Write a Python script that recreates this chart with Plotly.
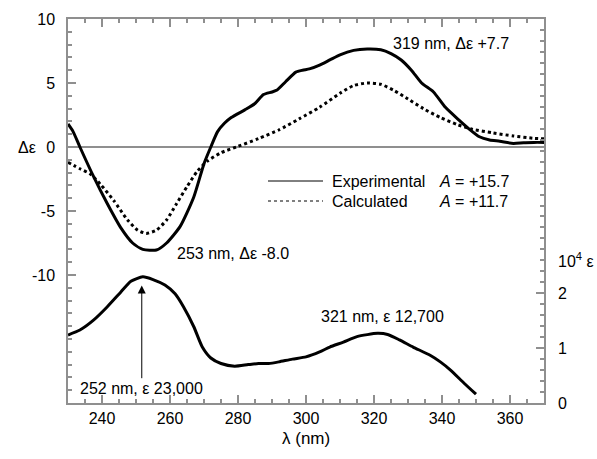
# CD and UV spectra, experimental vs calculated
import plotly.graph_objects as go

# experimental CD spectrum (nm, delta epsilon)
lam_exp = [230, 231.5, 233.5, 237.5, 241.5, 245.5, 249, 252, 256, 259, 263, 267, 270, 272,
           274, 276, 278, 282, 285, 287.5, 290, 291.5, 294, 297, 299, 301, 304, 307, 310,
           314, 318, 322, 325, 328, 331, 334, 337.5, 341, 345, 348, 351, 354, 357, 361,
           364, 367, 370]
de_exp = [1.8, 1.2, 0.0, -2.3, -4.4, -6.3, -7.5, -8.0, -8.05, -7.5, -6.2, -3.9, -1.3, 0.0,
          1.2, 1.85, 2.3, 2.9, 3.4, 4.1, 4.3, 4.45, 5.1, 5.85, 6.0, 6.1, 6.4, 6.8, 7.2,
          7.55, 7.66, 7.6, 7.3, 6.8, 6.0, 5.0, 4.3, 3.1, 2.1, 1.4, 0.8, 0.55, 0.45, 0.28,
          0.34, 0.36, 0.36]

# calculated CD spectrum
lam_calc = [230, 233.5, 236.5, 239.5, 243.5, 247.5, 250.5, 253, 256, 259, 262, 265, 268,
            271, 275, 280, 286, 292, 298, 304, 310, 314, 318, 322, 326, 330, 334.5, 339.5,
            344.5, 349, 355, 361, 367, 370]
de_calc = [-1.2, -1.7, -2.1, -2.9, -4.2, -5.7, -6.5, -6.75, -6.5, -5.7, -4.4, -3.1, -1.9,
           -1.1, -0.45, 0.05, 0.65, 1.33, 2.2, 3.1, 4.2, 4.8, 5.0, 4.9, 4.4, 3.75, 3.0, 2.3,
           1.75, 1.38, 1.1, 0.86, 0.68, 0.64]

# UV spectrum (10^4 epsilon)
lam_uv = [230, 233.5, 237.5, 241.5, 245.5, 248.5, 252, 255, 258.5, 261.5, 264, 267, 269.5,
          272, 275, 279, 283, 286, 289, 292, 296, 300, 304, 307, 311, 315, 321, 324, 327.5,
          331.5, 336.5, 339.5, 342.5, 346.5, 350]
eps_uv = [1.24, 1.33, 1.51, 1.75, 2.02, 2.22, 2.30, 2.25, 2.15, 1.99, 1.75, 1.39, 1.02,
          0.82, 0.72, 0.67, 0.70, 0.72, 0.72, 0.75, 0.80, 0.84, 0.93, 1.02, 1.11, 1.21, 1.27,
          1.25, 1.15, 1.02, 0.87, 0.75, 0.60, 0.36, 0.16]

# tick labels
x_ticks = [240, 260, 280, 300, 320, 340, 360]
y_ticks = [-10, -5, 0, 5, 10]
y_ticktext = ["-10", "-5", "0", "5", "10"]
y2_ticks = [0, 1, 2]

gray = "#8f8f8f"
font = "Arial, 'Liberation Sans', sans-serif"

fig = go.Figure()
fig.add_trace(go.Scatter(x=lam_exp, y=de_exp, mode="lines",
                         line=dict(color="black", width=3, shape="spline", smoothing=0.6)))
fig.add_trace(go.Scatter(x=lam_calc, y=de_calc, mode="lines",
                         line=dict(color="black", width=3, dash="dot", shape="spline", smoothing=0.6)))
fig.add_trace(go.Scatter(x=lam_uv, y=eps_uv, mode="lines", yaxis="y2",
                         line=dict(color="black", width=3, shape="spline", smoothing=0.6)))

fig.update_layout(
    width=597, height=459,
    margin=dict(l=68, r=53, t=19, b=56),
    paper_bgcolor="white", plot_bgcolor="white",
    showlegend=False,
    font=dict(family=font, size=16, color="black"),
    xaxis=dict(range=[230, 370], tickvals=x_ticks, showgrid=False, zeroline=False,
               showline=True, linecolor=gray, linewidth=1.5, mirror="ticks",
               ticks="inside", ticklen=8, tickwidth=1.5, tickcolor=gray, ticklabelstandoff=0,
               minor=dict(dtick=5, tick0=230, ticks="inside", ticklen=4, tickwidth=1.5,
                          tickcolor=gray, showgrid=False)),
    yaxis=dict(range=[-20, 10], tickvals=y_ticks, ticktext=y_ticktext, showgrid=False,
               zeroline=True, zerolinecolor=gray, zerolinewidth=2,
               showline=True, linecolor=gray, linewidth=1.5,
               ticks="inside", ticklen=8, tickwidth=1.5, tickcolor=gray, ticklabelstandoff=8,
               minor=dict(tickmode="array", tickvals=list(range(-20, 11)), ticks="inside",
                          ticklen=4, tickwidth=1.5, tickcolor=gray, showgrid=False)),
    yaxis2=dict(range=[0, 7], overlaying="y", side="right", tickvals=y2_ticks,
                showgrid=False, zeroline=False,
                showline=True, linecolor=gray, linewidth=1.5,
                ticks="inside", ticklen=8, tickwidth=1.5, tickcolor=gray, ticklabelstandoff=9,
                minor=dict(tickmode="array", tickvals=[round(i * 0.2, 1) for i in range(36)],
                           ticks="inside", ticklen=4, tickwidth=1.5, tickcolor=gray,
                           showgrid=False)),
)

# legend drawn by hand
fig.add_shape(type="line", xref="paper", yref="paper",
              x0=(268 - 68) / 476, x1=(323 - 68) / 476,
              y0=(403 - 181) / 384, y1=(403 - 181) / 384,
              line=dict(color="black", width=1))
fig.add_shape(type="line", xref="paper", yref="paper",
              x0=(268 - 68) / 476, x1=(323 - 68) / 476,
              y0=(403 - 201) / 384, y1=(403 - 201) / 384,
              line=dict(color="black", width=1, dash="dot"))

notes = [
    ("Experimental", 330, 181),
    ("Calculated", 330, 201),
    ("<i>A</i> = +15.7", 437, 181),
    ("<i>A</i> = +11.7", 437, 201),
]
for txt, px, py in notes:
    fig.add_annotation(text=txt, xref="paper", yref="paper",
                       x=(px - 68) / 476, y=(403 - py) / 384,
                       xanchor="left", yanchor="middle", showarrow=False)

fig.add_annotation(text="319 nm, Δε +7.7", x=342.5, y=8.1, showarrow=False)
fig.add_annotation(text="253 nm, Δε -8.0", x=261.5, y=-8.3, xanchor="left", showarrow=False)
fig.add_annotation(text="321 nm, ε 12,700", x=322.4, y=1.57, yref="y2", showarrow=False)
fig.add_annotation(text="252 nm, ε 23,000", x=251.7, y=2.14, yref="y2",
                   ax=251.7, ay=0.27, axref="x", ayref="y2",
                   showarrow=True, arrowhead=2, arrowsize=1.6, arrowwidth=1,
                   arrowcolor="black")

# axis titles
fig.add_annotation(text="Δε", xref="paper", x=(16 - 68) / 476, y=0, showarrow=False)
fig.add_annotation(text="10<sup>4</sup> ε", xref="paper", yref="y2",
                   x=(556 - 68) / 476, y=2.6, xanchor="left", showarrow=False)
fig.add_annotation(text="λ (nm)", xref="paper", yref="paper", font=dict(size=17),
                   x=0.5, y=(403 - 450) / 384, showarrow=False)

# no page margin, so the figure sits at the window's corner; no modebar
fig.write_html("out.html", config={"displayModeBar": False},
               post_script="document.body.style.margin='0';document.body.style.overflow='hidden';")
